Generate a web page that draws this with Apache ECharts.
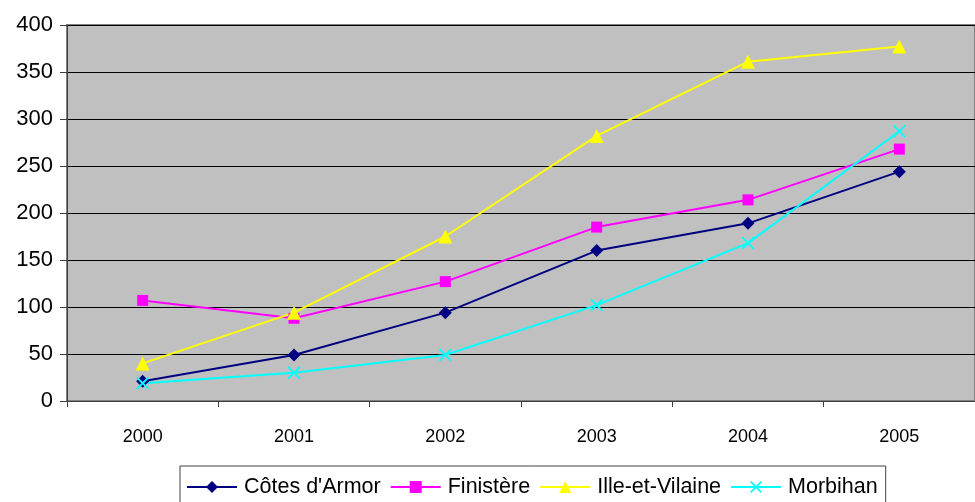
<!DOCTYPE html>
<html>
<head>
<meta charset="utf-8">
<script src="https://cdn.jsdelivr.net/npm/echarts@6/dist/echarts.min.js"></script>
<style>
  html,body{margin:0;padding:0;background:#fff;}
  #chart{width:975px;height:502px;}
</style>
</head>
<body>
<div id="chart"></div>
<script>
  const years = ['2000','2001','2002','2003','2004','2005'];
  const yTicks = [0,50,100,150,200,250,300,350,400];
  const cotesArmor = [21,49,94,160,189,244];
  const finistere = [107,88,127,185,214,268];
  const illeVilaine = [40,94,175,282,361,377];
  const morbihan = [19,30,49,102,168,287];

  const X_SYMBOL = 'path://M0,1L1,0L5,4L9,0L10,1L6,5L10,9L9,10L5,6L1,10L0,9L4,5Z';

  const chart = echarts.init(document.getElementById('chart'));

  function line(name, data, color, symbol, size){
    return {
      name, type:'line', data,
      symbol, symbolSize:size,
      lineStyle:{width:2,color},
      itemStyle:{color},
      animation:false
    };
  }

  chart.setOption({
    textStyle:{fontFamily:'Liberation Sans, Arial, sans-serif'},
    grid:{left:67,top:25,width:917,height:376,show:true,backgroundColor:'#C0C0C0',borderColor:'#808080',borderWidth:2},
    xAxis:{
      type:'category', data:years, boundaryGap:true,
      axisLine:{lineStyle:{color:'#404040',width:1}},
      axisTick:{show:true,interval:0,length:6,lineStyle:{color:'#404040'}},
      axisLabel:{color:'#000',fontSize:18,margin:27}
    },
    yAxis:{
      type:'value', min:yTicks[0], max:yTicks[yTicks.length-1], interval:50,
      axisLine:{show:true,lineStyle:{color:'#404040',width:1}},
      axisTick:{show:true,length:7,lineStyle:{color:'#404040'}},
      axisLabel:{color:'#000',fontSize:22,margin:14},
      splitLine:{lineStyle:{color:'#000',width:1}}
    },
    legend:{
      left:180, top:466,
      padding:[10,8,12,6],
      itemWidth:50, itemHeight:15, itemGap:9,
      borderColor:'#404040', borderWidth:1, backgroundColor:'#fff',
      textStyle:{fontSize:21.5,color:'#000',padding:[0,0,0,2]},
      data:['Côtes d\'Armor','Finistère','Ille-et-Vilaine','Morbihan']
    },
    series:[
      line('Côtes d\'Armor', cotesArmor, '#000080', 'diamond', 13),
      line('Finistère', finistere, '#FF00FF', 'rect', 11),
      line('Ille-et-Vilaine', illeVilaine, '#FFFF00', 'triangle', 14),
      line('Morbihan', morbihan, '#00FFFF', X_SYMBOL, 13)
    ]
  });
</script>
</body>
</html>
